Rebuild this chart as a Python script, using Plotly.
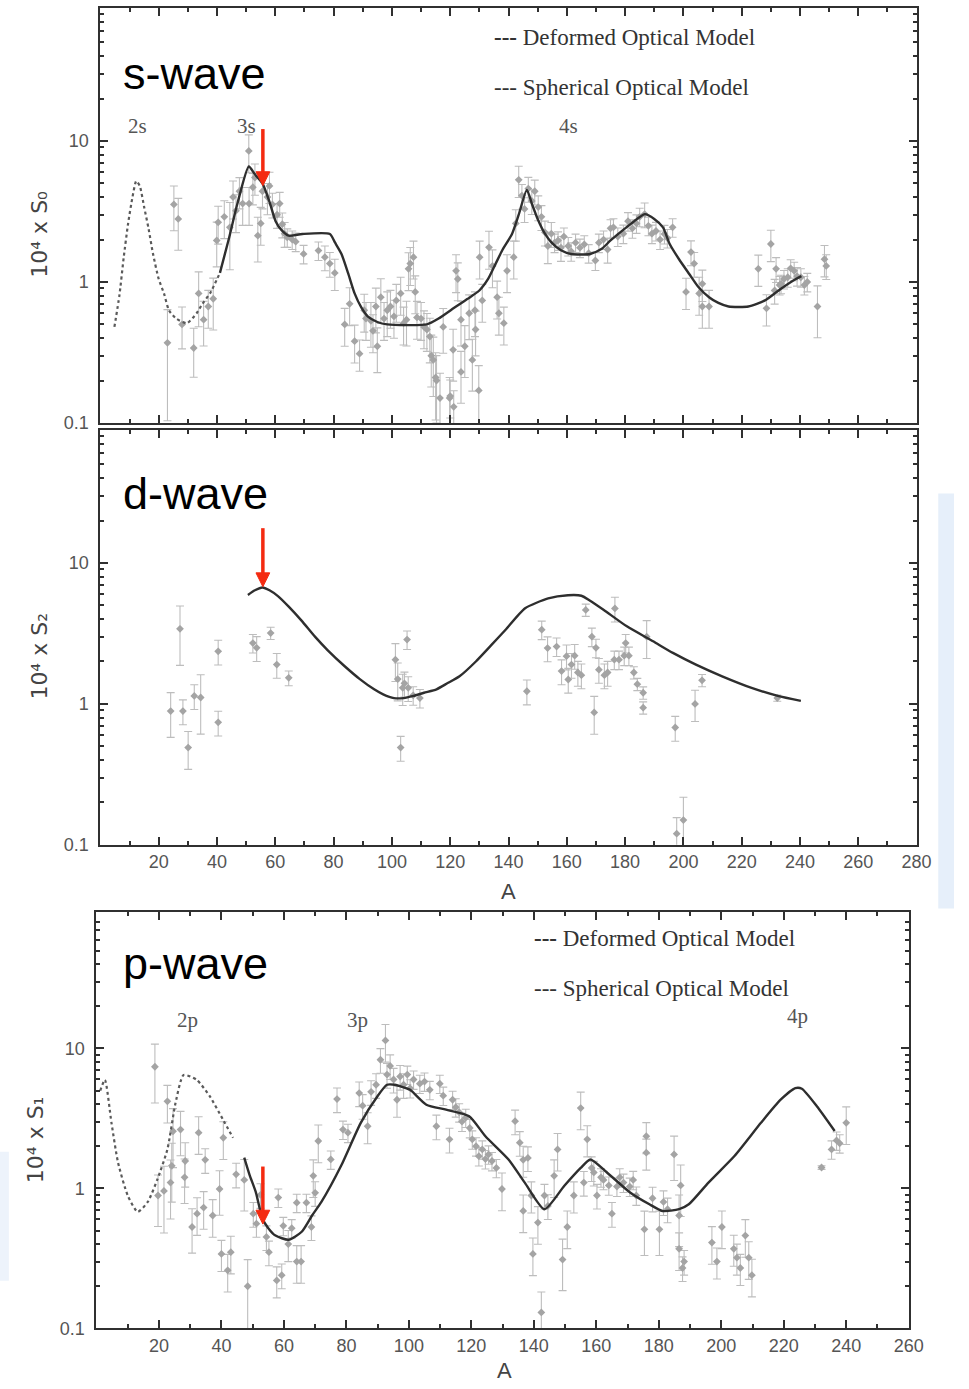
import plotly.graph_objects as go

W, H = 969, 1389

# ---------------- s-wave data ----------------
s_A = [23, 25.2, 26.7, 28, 32, 33.7, 35.4, 37, 38.7, 39.9, 40.4, 42.5, 44.4, 45.5, 46.5, 47.7, 48.8, 50.9, 51, 52.3,
       53, 54, 55, 55.6, 57.3, 58, 59, 60.6, 61.5, 62.4, 63.2, 64.1, 65.8, 67, 69.7, 74.8, 77, 78.7, 80.4, 83.8,
       85.5, 87.2, 88.9, 90.5, 91.1, 92.8, 93.5, 94.5, 95, 96.2, 97.3, 98.4, 99.5, 100.7, 101.5, 103, 104, 105, 105.7, 106.3,
       107.4, 108, 108.6, 110, 111, 112, 113, 113.5, 114.2, 115, 115.3, 116.5, 117.6, 119.8, 120, 121, 121.2, 122, 122.6, 123.7,
       123.7, 125, 126.5, 127.6, 128.5, 128.7, 129.8, 130.1, 131, 133.3, 134.5, 136.1, 136.7, 138.4, 139.5, 141.8, 142.5, 143.5, 144.6, 145.5,
       146.8, 148, 149, 150.2, 151.3, 152.5, 153.5, 154.7, 155.8, 157, 158, 159, 160.5, 161.5, 163, 164.5, 166, 167.5, 169.8, 171,
       172.6, 174, 175, 176, 177.5, 179.4, 181, 182.5, 183.9, 185, 186.7, 188, 189.2, 190.6, 192, 193.5, 194.5, 196.3, 200.9, 202.6,
       203.7, 205.4, 206.5, 206.5, 208.8, 225.7, 228.5, 230, 231.3, 231.8, 233, 233.5, 234.5, 235.8, 236.8, 238, 239, 240.3, 241.5, 242.5,
       246, 248.4, 249]
s_val = [0.37, 3.55, 2.8, 0.50, 0.34, 0.83, 0.54, 0.67, 0.76, 1.97, 2.65, 2.9, 2.44, 4.0, 3.2, 4.4, 3.6, 8.5, 3.6, 4.7,
         5.5, 2.13, 2.6, 4.4, 4.0, 4.8, 3.55, 3.0, 3.6, 2.57, 2.2, 2.07, 2.0, 1.93, 1.58, 1.67, 1.5, 1.35, 1.16, 0.50,
         0.70, 0.38, 0.31, 0.63, 0.55, 0.53, 0.45, 0.67, 0.35, 0.78, 0.55, 0.63, 0.67, 0.57, 0.74, 0.83, 0.51, 0.54, 1.24, 1.35,
         1.5, 0.85, 0.56, 0.55, 0.48, 0.46, 0.41, 0.30, 0.28, 0.21, 0.20, 0.15, 0.48, 0.15, 0.155, 0.33, 0.13, 1.2, 1.05, 0.54,
         0.23, 0.35, 0.60, 0.28, 0.63, 0.46, 0.17, 1.5, 0.74, 1.76, 1.3, 0.78, 0.60, 0.51, 1.2, 1.5, 2.6, 5.3, 4.1, 3.3,
         4.6, 3.76, 4.4, 3.4, 2.9, 2.25, 1.8, 2.2, 1.9, 1.97, 1.75, 2.1, 1.8, 1.65, 1.9, 1.75, 1.85, 1.6, 1.42, 1.9,
         2.0, 1.7, 2.4, 2.44, 2.1, 2.2, 2.7, 2.4, 2.6, 2.9, 3.03, 2.5, 2.2, 2.3, 2.0, 2.19, 2.05, 2.44, 0.85, 1.63,
         1.35, 0.83, 0.97, 0.67, 0.67, 1.24, 0.65, 1.86, 0.87, 1.24, 0.95, 0.97, 1.05, 1.08, 1.25, 1.2, 1.1, 1.08, 0.95, 1.0,
         0.67, 1.45, 1.3]
s_err = [0.72, 0.35, 0.4, 0.33, 0.38, 0.42, 0.35, 0.3, 0.4, 0.35, 0.3, 0.3, 0.5, 0.3, 0.3, 0.25, 0.3, 0.3, 0.3, 0.25,
         0.25, 0.35, 0.3, 0.25, 0.25, 0.25, 0.2, 0.2, 0.2, 0.2, 0.2, 0.15, 0.15, 0.15, 0.15, 0.15, 0.2, 0.2, 0.25, 0.3,
         0.3, 0.3, 0.25, 0.3, 0.3, 0.35, 0.3, 0.35, 0.35, 0.35, 0.3, 0.35, 0.3, 0.3, 0.3, 0.3, 0.3, 0.35, 0.3, 0.3,
         0.3, 0.3, 0.3, 0.3, 0.3, 0.3, 0.35, 0.4, 0.45, 0.5, 0.5, 0.5, 0.35, 0.4, 0.3, 0.4, 0.3, 0.3, 0.3, 0.35,
         0.4, 0.4, 0.35, 0.4, 0.35, 0.35, 0.5, 0.3, 0.3, 0.3, 0.3, 0.3, 0.3, 0.3, 0.3, 0.3, 0.25, 0.25, 0.2, 0.2,
         0.2, 0.2, 0.2, 0.2, 0.2, 0.2, 0.25, 0.2, 0.15, 0.15, 0.2, 0.15, 0.15, 0.15, 0.15, 0.15, 0.15, 0.15, 0.15, 0.15,
         0.15, 0.2, 0.15, 0.15, 0.15, 0.15, 0.15, 0.15, 0.15, 0.15, 0.2, 0.15, 0.15, 0.15, 0.15, 0.15, 0.15, 0.15, 0.25, 0.2,
         0.2, 0.3, 0.25, 0.3, 0.3, 0.25, 0.25, 0.25, 0.2, 0.2, 0.15, 0.15, 0.15, 0.15, 0.15, 0.15, 0.15, 0.15, 0.15, 0.15,
         0.4, 0.25, 0.2]

s_def_A = [41, 44, 47, 50.9, 53, 55.6, 58, 60.1, 62, 64.6, 69.3, 78.7, 80.5, 82.7, 85, 87.2, 89.5, 91.7, 95, 98.4,
           112, 116, 122, 126, 130, 133, 135.6, 138, 141.2, 143.5, 146.3, 148, 150, 152.5, 154.7, 158, 161.5, 168, 172, 175,
           180, 184, 186.8, 190, 193, 195.3, 198.5, 202, 205, 208.8, 212, 215.5, 222.3, 228, 233.6, 238.6, 240.5]
s_def_val = [1.16, 2.0, 3.6, 6.6, 5.8, 5.0, 3.7, 2.7, 2.35, 2.13, 2.19, 2.19, 1.9, 1.58, 1.15, 0.83, 0.66, 0.57, 0.52, 0.50,
             0.50, 0.55, 0.67, 0.76, 0.87, 1.05, 1.35, 1.7, 2.19, 3.0, 4.5, 3.6, 2.8, 2.2, 1.91, 1.68, 1.58, 1.58, 1.72, 1.97,
             2.4, 2.79, 3.03, 2.8, 2.44, 1.86, 1.45, 1.14, 0.93, 0.78, 0.71, 0.67, 0.67, 0.74, 0.90, 1.05, 1.1]
s_sph_A = [4.8, 6.5, 8, 9.5, 11, 12.3, 13.5, 15, 16.5, 18, 20, 21.8, 23.5, 26, 29.7, 33, 35, 37.6, 41]
s_sph_val = [0.48, 0.8, 1.5, 2.6, 4.0, 5.2, 4.8, 3.4, 2.4, 1.6, 1.05, 0.83, 0.63, 0.55, 0.51, 0.60, 0.7, 0.83, 1.16]

# ---------------- d-wave data ----------------
d_A = [24.1, 27.3, 28.3, 30.1, 32.2, 34.4, 40.4, 40.4, 52.3, 53.6, 58.4, 60.5, 64.6, 101.2, 102, 103, 103.7, 104.3, 105.2, 105.6,
       107.3, 109.6, 146.3, 151.4, 153.4, 156.5, 158.2, 159.9, 160.5, 161.6, 162.7, 163.8, 165, 166.5, 168.6, 169.4, 170, 171, 172.9, 174,
       176.3, 176.5, 177.9, 179.7, 180.2, 181.3, 183, 184.2, 186.2, 186.2, 187.4, 197.2, 197.7, 200, 204, 206.4, 232.2]
d_val = [0.89, 3.41, 0.89, 0.49, 1.14, 1.11, 2.36, 0.74, 2.7, 2.5, 3.18, 1.90, 1.53, 2.06, 1.5, 0.49, 1.3, 1.4, 2.86, 1.3,
         1.15, 1.1, 1.23, 3.36, 2.49, 2.55, 1.71, 2.18, 1.49, 1.9, 2.2, 1.67, 1.6, 4.64, 3.0, 0.87, 2.5, 1.75, 1.6, 1.67,
         2.06, 4.76, 2.06, 2.2, 2.7, 2.2, 1.67, 1.38, 1.2, 0.94, 3.0, 0.68, 0.12, 0.15, 1.0, 1.47, 1.1]
d_err = [0.35, 0.45, 0.2, 0.3, 0.2, 0.45, 0.2, 0.2, 0.15, 0.2, 0.1, 0.2, 0.12, 0.3, 0.3, 0.2, 0.25, 0.2, 0.15, 0.2,
         0.15, 0.15, 0.2, 0.15, 0.2, 0.15, 0.2, 0.2, 0.2, 0.2, 0.2, 0.2, 0.2, 0.1, 0.15, 0.3, 0.15, 0.2, 0.2, 0.2,
         0.15, 0.2, 0.15, 0.15, 0.15, 0.15, 0.1, 0.1, 0.1, 0.1, 0.3, 0.2, 0.3, 0.45, 0.25, 0.1, 0.05]

d_def_A = [50.6, 53, 55.6, 58, 61, 64.6, 69, 73.6, 78, 83.8, 89, 93.9, 97, 100.7, 104, 107.4, 111, 115.3, 119, 123.2,
           128.8, 134, 139, 145.7, 153.6, 160.4, 165, 168, 172.7, 180.6, 189.6, 196.4, 204.3, 213.3, 223.4, 232.4, 240.3]
d_def_val = [5.93, 6.4, 6.7, 6.4, 5.8, 4.9, 3.9, 3.0, 2.4, 1.85, 1.5, 1.27, 1.17, 1.1, 1.1, 1.14, 1.2, 1.27, 1.4, 1.57,
             2.0, 2.6, 3.36, 4.77, 5.6, 5.9, 5.85, 5.4, 4.64, 3.55, 2.78, 2.3, 1.9, 1.57, 1.3, 1.14, 1.05]

# ---------------- p-wave data ----------------
p_A = [18.7, 19.7, 21.6, 22.7, 23.7, 24.1, 24.5, 26.9, 28.2, 28.4, 30.6, 32.2, 32.7, 34.3, 34.8, 37.2, 39.4, 40, 40.6, 42,
       43, 44.7, 47.3, 48.4, 50.2, 51.2, 52.5, 54.4, 55.2, 57.7, 58.2, 59.3, 59.8, 61.4, 62.5, 64.1, 64.1, 65.5, 67.2, 68.8,
       69.4, 70, 71, 75, 77, 78.9, 80.5, 84.1, 85.2, 86.8, 87.9, 89.5, 90.9, 92.5, 93, 94, 95.1, 96.2, 97.2, 98.3,
       99.5, 100.4, 101.5, 103.5, 105, 106.7, 108.8, 109.9, 111, 113, 114, 115, 116.1, 117, 118.2, 119.5, 120.3, 121.5, 122.4, 123.5,
       124.5, 125.5, 126.6, 128, 129.8, 134, 135.5, 136.6, 136.6, 138.1, 139.2, 139.7, 141.3, 142.4, 143.4, 144.5, 146.5, 147.6, 149.2, 150.7,
       152.8, 155, 156, 157.1, 158.5, 159.2, 160.2, 161.5, 162.3, 164, 165, 166.6, 167.5, 168.7, 170.7, 171.8, 172.8, 175.4, 176, 176,
       178, 180.2, 181.5, 182.8, 184.9, 186.5, 187, 186.5, 188.1, 187.6, 197, 198.6, 200.2, 204, 205, 206.1, 207.7, 208.8, 209.8, 232.1,
       235.3, 236.9, 237.9, 240]
p_val = [7.4, 0.89, 0.96, 4.19, 1.1, 1.45, 2.56, 2.63, 1.2, 1.57, 0.53, 0.66, 2.5, 0.73, 1.6, 0.64, 0.99, 0.34, 2.3, 0.26,
         0.35, 1.26, 1.15, 0.2, 0.66, 0.56, 0.9, 0.45, 0.35, 0.22, 0.86, 0.24, 0.54, 0.4, 0.52, 0.3, 0.79, 0.3, 0.79, 0.53,
         1.23, 0.93, 2.18, 1.61, 4.35, 2.63, 2.5, 4.8, 3.9, 2.78, 4.9, 5.5, 8.3, 11.4, 6.5, 7.5, 6.0, 4.3, 6.3, 5.5,
         6.5, 5.2, 6.0, 5.6, 5.8, 5.06, 2.78, 5.6, 4.6, 2.24, 4.3, 3.8, 3.5, 3.0, 3.2, 2.7, 2.24, 2.0, 1.7, 1.9,
         1.62, 1.75, 1.57, 1.4, 0.99, 3.02, 2.12, 1.6, 0.69, 1.65, 0.89, 0.34, 0.57, 0.13, 0.89, 0.75, 1.23, 1.9, 0.31, 0.53,
         0.89, 3.75, 1.1, 2.24, 1.4, 1.3, 0.89, 1.2, 1.15, 1.05, 0.66, 1.03, 1.2, 1.1, 1.03, 1.15, 0.89, 0.51, 2.36, 1.8,
         0.85, 0.51, 0.8, 0.71, 1.75, 0.64, 1.05, 0.37, 0.3, 0.27, 0.41, 0.3, 0.53, 0.37, 0.32, 0.27, 0.46, 0.32, 0.24, 1.41,
         1.9, 2.2, 2.1, 2.94]
p_err = [0.45, 0.4, 0.5, 0.3, 0.45, 0.45, 0.45, 0.35, 0.35, 0.35, 0.35, 0.3, 0.3, 0.3, 0.2, 0.3, 0.35, 0.25, 0.3, 0.3,
         0.3, 0.2, 0.4, 0.55, 0.2, 0.2, 0.2, 0.2, 0.2, 0.25, 0.15, 0.2, 0.15, 0.25, 0.15, 0.3, 0.15, 0.3, 0.15, 0.2,
         0.3, 0.2, 0.3, 0.15, 0.2, 0.15, 0.15, 0.2, 0.2, 0.25, 0.2, 0.2, 0.2, 0.3, 0.2, 0.2, 0.2, 0.25, 0.2, 0.2,
         0.15, 0.15, 0.15, 0.15, 0.15, 0.15, 0.2, 0.15, 0.15, 0.2, 0.15, 0.15, 0.15, 0.15, 0.15, 0.15, 0.15, 0.15, 0.15, 0.15,
         0.15, 0.15, 0.15, 0.15, 0.3, 0.2, 0.2, 0.25, 0.3, 0.2, 0.25, 0.3, 0.3, 0.4, 0.2, 0.2, 0.3, 0.3, 0.4, 0.3,
         0.25, 0.3, 0.2, 0.25, 0.2, 0.2, 0.2, 0.15, 0.15, 0.15, 0.2, 0.15, 0.15, 0.15, 0.15, 0.15, 0.15, 0.35, 0.25, 0.25,
         0.2, 0.35, 0.2, 0.2, 0.35, 0.4, 0.4, 0.3, 0.2, 0.2, 0.3, 0.25, 0.3, 0.25, 0.25, 0.25, 0.3, 0.3, 0.3, 0.03,
         0.15, 0.15, 0.15, 0.3]

p_def_A = [47.3, 49, 51, 53.1, 55, 57.3, 61.5, 65.7, 69, 72, 78.3, 84.6, 89.9, 93, 95.5, 98, 100.4, 105.6, 111.9, 119.3,
           124.5, 131.9, 137.1, 143.4, 149.7, 155, 158.1, 163.4, 170.7, 177, 181.2, 186.5, 189.6, 195.9, 204.3, 212.7, 219, 223.7, 225.8, 230.6,
           236.3]
p_def_val = [1.66, 1.25, 0.94, 0.61, 0.52, 0.46, 0.43, 0.49, 0.64, 0.80, 1.45, 2.94, 4.54, 5.5, 5.5, 5.3, 5.06, 3.96, 3.65, 3.28,
             2.36, 1.61, 1.1, 0.71, 1.04, 1.4, 1.61, 1.3, 0.94, 0.77, 0.69, 0.71, 0.77, 1.1, 1.71, 2.94, 4.3, 5.2, 5.15, 3.86,
             2.57]
p_sph_A = [1.2, 2.7, 4.8, 6.9, 10, 13.2, 16.4, 19.5, 22.7, 25.3, 27.9, 32.1, 36.3, 40.5, 43.7]
p_sph_val = [5.0, 5.96, 2.94, 1.53, 0.89, 0.68, 0.8, 1.16, 1.9, 4.07, 6.46, 5.96, 4.54, 3.1, 2.3]

y_tickvals = [0.1, 1, 10]
y_ticktext = ["0.1", "1", "10"]
y_minor = [0.2, 0.3, 0.4, 0.5, 0.6, 0.7, 0.8, 0.9, 2, 3, 4, 5, 6, 7, 8, 9, 20, 30, 40, 50, 60, 70, 80]
x_ticks_280 = [20, 40, 60, 80, 100, 120, 140, 160, 180, 200, 220, 240, 260, 280]
x_ticks_260 = [20, 40, 60, 80, 100, 120, 140, 160, 180, 200, 220, 240, 260]


def fx(p):
    return p / W


def fy(p):
    return 1 - p / H


DATA_C = "#a4a4a4"
ERR_C = "#bdbdbd"
LINE_C = "#2e2e2e"
AX_C = "#303030"
TICKFONT = dict(family="Liberation Sans, Arial", size=18, color="#555555")

fig = go.Figure()


def add_data(A, val, err, xa, ya):
    fig.add_trace(go.Scatter(
        x=A, y=val, mode="markers", xaxis=xa, yaxis=ya, showlegend=False, hoverinfo="skip",
        marker=dict(symbol="diamond", size=6, color=DATA_C),
        error_y=dict(type="data", symmetric=False,
                     array=[v * e for v, e in zip(val, err)],
                     arrayminus=[v * e for v, e in zip(val, err)],
                     color=ERR_C, thickness=1.1, width=4)))


def add_line(A, val, xa, ya, dotted=False):
    fig.add_trace(go.Scatter(
        x=A, y=val, mode="lines", xaxis=xa, yaxis=ya, showlegend=False, hoverinfo="skip",
        line=dict(color="#5a5a5a" if dotted else LINE_C, width=2.2 if dotted else 2.4,
                  dash="dot" if dotted else "solid", shape="spline", smoothing=0.6)))


add_data(s_A, s_val, s_err, "x", "y")
add_line(s_sph_A, s_sph_val, "x", "y", dotted=True)
add_line(s_def_A, s_def_val, "x", "y")

add_data(d_A, d_val, d_err, "x2", "y2")
add_line(d_def_A, d_def_val, "x2", "y2")

add_data(p_A, p_val, p_err, "x3", "y3")
add_line(p_sph_A, p_sph_val, "x3", "y3", dotted=True)
add_line(p_def_A, p_def_val, "x3", "y3")


def xaxis(domain, rng, ticks, anchor, labels=True):
    return dict(domain=domain, range=rng, anchor=anchor, tickmode="array", tickvals=ticks,
                ticks="inside", ticklen=8, tickwidth=2, tickcolor=AX_C,
                showline=True, linecolor=AX_C, linewidth=2, mirror="allticks",
                showgrid=False, zeroline=False, showticklabels=labels, tickfont=TICKFONT,
                minor=dict(dtick=10, tick0=0, ticks="inside", ticklen=4, tickwidth=1.5, tickcolor=AX_C, showgrid=False))


def yaxis(domain, top, anchor):
    return dict(domain=domain, type="log", range=[-1, top], anchor=anchor, tickmode="array",
                tickvals=y_tickvals, ticktext=y_ticktext,
                ticks="inside", ticklen=8, tickwidth=2, tickcolor=AX_C,
                showline=True, linecolor=AX_C, linewidth=2, mirror="allticks",
                showgrid=False, zeroline=False, tickfont=TICKFONT, ticklabelstandoff=6,
                minor=dict(tickmode="array", tickvals=y_minor, ticks="inside", ticklen=4, tickwidth=1.5,
                           tickcolor=AX_C, showgrid=False))


fig.update_layout(
    width=W, height=H, margin=dict(l=0, r=0, t=0, b=0),
    paper_bgcolor="white", plot_bgcolor="white",
    xaxis=xaxis([fx(102), fx(931)], [0, 280], x_ticks_280, "y", labels=False),
    yaxis=yaxis([fy(426), fy(8)], 1.944, "x"),
    xaxis2=xaxis([fx(102), fx(931)], [0, 280], x_ticks_280, "y2"),
    yaxis2=yaxis([fy(851), fy(433)], 1.944, "x2"),
    xaxis3=xaxis([fx(98), fx(923)], [0, 260], x_ticks_260, "y3"),
    yaxis3=yaxis([fy(1338), fy(919)], 1.972, "x3"),
)

# light blue strips from the source image
fig.add_shape(type="rect", xref="paper", yref="paper", x0=fx(953), x1=1, y0=fy(915), y1=fy(497),
              fillcolor="#e6effa", line_width=0, layer="below")
fig.add_shape(type="rect", xref="paper", yref="paper", x0=0, x1=fx(9), y0=fy(1290), y1=fy(1160),
              fillcolor="#edf3fb", line_width=0, layer="below")

# red arrows drawn as shapes (shaft + head)
ARROW_C = "#f42a10"
for (ax_x, tip_y, tail_y) in [(267, 187, 130), (267, 591, 532), (267, 1233, 1175)]:
    fig.add_shape(type="line", xref="paper", yref="paper", x0=fx(ax_x), x1=fx(ax_x),
                  y0=fy(tail_y), y1=fy(tip_y - 12), line=dict(color=ARROW_C, width=3.5))
    fig.add_shape(type="path", xref="paper", yref="paper",
                  path="M %f %f L %f %f L %f %f Z" % (fx(ax_x - 7), fy(tip_y - 14), fx(ax_x + 7), fy(tip_y - 14),
                                                       fx(ax_x), fy(tip_y)),
                  fillcolor=ARROW_C, line=dict(color=ARROW_C, width=1))

ann = []


def text(x, y, t, size, color="black", family="Liberation Sans, Arial", xanchor="center", angle=0):
    ann.append(dict(x=fx(x), y=fy(y), xref="paper", yref="paper", text=t, showarrow=False,
                    xanchor=xanchor, yanchor="middle", textangle=angle,
                    font=dict(size=size, color=color, family=family)))


# panel titles
text(123, 74, "s-wave", 45, xanchor="left")
text(123, 497, "d-wave", 45, xanchor="left")
text(123, 970, "p-wave", 45, xanchor="left")

# shell labels
SERIF = "Liberation Serif, Times New Roman"
text(140, 127, "2s", 21, "#555555", SERIF)
text(250, 127, "3s", 21, "#555555", SERIF)
text(577, 127, "4s", 21, "#555555", SERIF)
text(190, 1027, "2p", 21, "#555555", SERIF)
text(363, 1027, "3p", 21, "#555555", SERIF)
text(810, 1023, "4p", 21, "#555555", SERIF)

# legends (text)
text(500, 38, "<b>---</b> Deformed Optical Model", 23, "#333333", SERIF, xanchor="left")
text(500, 88, "--- Spherical Optical Model", 23, "#333333", SERIF, xanchor="left")
text(540, 945, "<b>---</b> Deformed Optical Model", 23, "#333333", SERIF, xanchor="left")
text(540, 996, "--- Spherical Optical Model", 23, "#333333", SERIF, xanchor="left")

# axis titles (unicode super/subscripts)
AXT_FONT = "DejaVu Sans, Liberation Sans"
text(40, 236, "10⁴ x S₀", 22, "#444444", AXT_FONT, angle=-90)
text(40, 661, "10⁴ x S₂", 22, "#444444", AXT_FONT, angle=-90)
text(36, 1148, "10⁴ x S₁", 22, "#444444", AXT_FONT, angle=-90)
text(516, 898, "A", 22, "#444444")
text(512, 1380, "A", 22, "#444444")

fig.update_layout(annotations=ann)

fig.write_html("out.html", config={"displayModeBar": False})
